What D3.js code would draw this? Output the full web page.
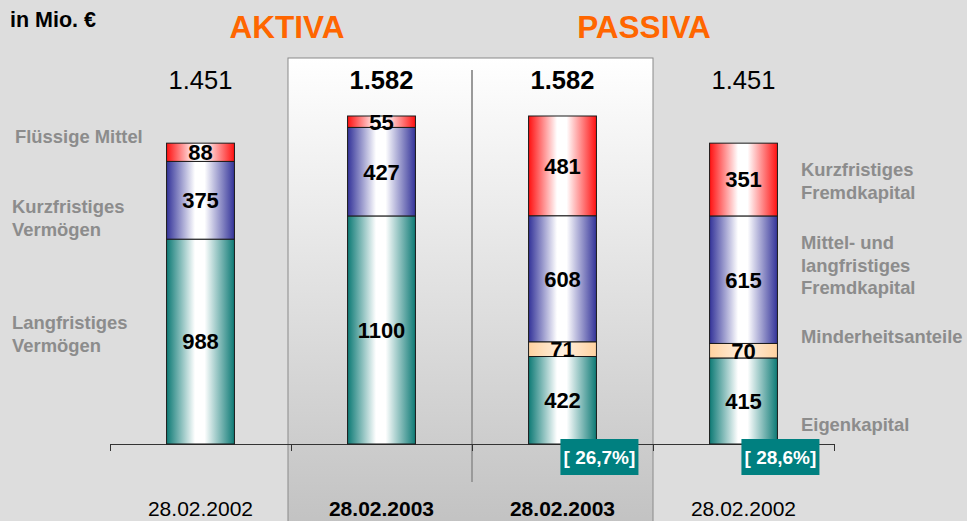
<!DOCTYPE html>
<html>
<head>
<meta charset="utf-8">
<script src="https://cdn.jsdelivr.net/npm/d3@7"></script>
<style>
  body { margin: 0; background: #dddddd; }
  svg { display: block; }
</style>
</head>
<body>
<div id="chart"></div>
<script>
// ---------- data ----------
const dates = ["28.02.2002", "28.02.2003", "28.02.2003", "28.02.2002"];
const boldCol = [false, true, true, false];
const totals = ["1.451", "1.582", "1.582", "1.451"];

const langfristigesVermoegen = [988, 1100, 0, 0];
const kurzfristigesVermoegen = [375, 427, 0, 0];
const fluessigeMittel = [88, 55, 0, 0];
const eigenkapital = [0, 0, 422, 415];
const minderheitsanteile = [0, 0, 71, 70];
const mittelLangFremd = [0, 0, 608, 615];
const kurzFremd = [0, 0, 481, 351];

const eigenkapitalQuote = [null, null, "26,7%", "28,6%"];

const leftLabels = [["Flüssige Mittel"], ["Kurzfristiges", "Vermögen"], ["Langfristiges", "Vermögen"]];
const rightLabels = [["Kurzfristiges", "Fremdkapital"], ["Mittel- und", "langfristiges", "Fremdkapital"], ["Minderheitsanteile"], ["Eigenkapital"]];

// ---------- layout ----------
const W = 967, H = 521;
const FONT = "'Liberation Sans', Arial, sans-serif";
const baseY = 444;

const keys = ["lv", "kv", "fm", "ek", "mh", "mlf", "kf"];
const valuesByKey = {
  lv: langfristigesVermoegen, kv: kurzfristigesVermoegen, fm: fluessigeMittel,
  ek: eigenkapital, mh: minderheitsanteile, mlf: mittelLangFremd, kf: kurzFremd
};
const colorByKey = {
  lv: "#0d7a75", kv: "#333399", fm: "#ff1010",
  ek: "#0d7a75", mh: "#ffd2a0", mlf: "#333399", kf: "#ff1010"
};

const rows = dates.map((d, i) => {
  const r = { i };
  keys.forEach(k => r[k] = valuesByKey[k][i]);
  return r;
});
const stacked = d3.stack().keys(keys)(rows);

const x = d3.scaleBand().domain(d3.range(dates.length)).range([110, 834]).paddingInner(0.625).paddingOuter(0.3125);
const xEdge = d3.scaleLinear().domain([0, dates.length]).range([110, 834]);
const y = d3.scaleLinear().domain([0, 1582]).range([baseY, 116]);

const svg = d3.select("#chart").append("svg").attr("width", W).attr("height", H);
const defs = svg.append("defs");

// background + highlighted panel
svg.append("rect").attr("width", W).attr("height", H).attr("fill", "#dddddd");

const pg = defs.append("linearGradient").attr("id", "panelGrad").attr("x1", 0).attr("y1", 0).attr("x2", 0).attr("y2", 1);
pg.append("stop").attr("offset", 0).attr("stop-color", "#ffffff");
pg.append("stop").attr("offset", 1).attr("stop-color", "#c2c2c2");

svg.append("rect")
  .attr("x", xEdge(1) - 3).attr("y", 58)
  .attr("width", xEdge(3) - xEdge(1) + 3).attr("height", H - 58 + 5)
  .attr("fill", "url(#panelGrad)")
  .attr("stroke", "#8a8a8a").attr("stroke-width", 1);

svg.append("line")
  .attr("x1", xEdge(2)).attr("x2", xEdge(2))
  .attr("y1", 70).attr("y2", 482)
  .attr("stroke", "#9a9a9a").attr("stroke-width", 2);

// gradients for bar segments
keys.forEach(k => {
  const c = colorByKey[k];
  const lg = defs.append("linearGradient").attr("id", "g_" + k).attr("x1", 0).attr("x2", 1).attr("y1", 0).attr("y2", 0);
  if (k === "mh") {
    lg.append("stop").attr("offset", 0).attr("stop-color", c);
    lg.append("stop").attr("offset", 0.5).attr("stop-color", "#fff0e0");
    lg.append("stop").attr("offset", 1).attr("stop-color", c);
  } else {
    lg.append("stop").attr("offset", 0).attr("stop-color", c);
    lg.append("stop").attr("offset", 0.42).attr("stop-color", "#ffffff");
    lg.append("stop").attr("offset", 0.56).attr("stop-color", "#ffffff");
    lg.append("stop").attr("offset", 1).attr("stop-color", c);
  }
});

// axis
const axis = svg.append("g").attr("transform", `translate(0,${baseY})`)
  .call(d3.axisBottom(xEdge).tickValues(d3.range(dates.length + 1)).tickSize(7).tickSizeOuter(0).tickFormat(""));
axis.selectAll("path,line").attr("stroke", "#333");

// bars
const layers = svg.append("g").selectAll("g").data(stacked).join("g");
layers.selectAll("rect")
  .data(s => s.map(d => ({ key: s.key, d })).filter(o => o.d[1] - o.d[0] > 0))
  .join("rect")
  .attr("x", o => x(o.d.data.i))
  .attr("width", x.bandwidth())
  .attr("y", o => y(o.d[1]))
  .attr("height", o => y(o.d[0]) - y(o.d[1]))
  .attr("fill", o => `url(#g_${o.key})`)
  .attr("stroke", "#1a1a1a").attr("stroke-width", 1);

layers.selectAll("text")
  .data(s => s.map(d => ({ key: s.key, d })).filter(o => o.d[1] - o.d[0] > 0))
  .join("text")
  .attr("x", o => x(o.d.data.i) + x.bandwidth() / 2)
  .attr("y", o => (y(o.d[0]) + y(o.d[1])) / 2)
  .attr("dy", "0.36em")
  .attr("text-anchor", "middle")
  .attr("font-family", FONT).attr("font-weight", "bold").attr("font-size", 22)
  .attr("fill", "#000")
  .text(o => o.d[1] - o.d[0]);

// totals
svg.append("g").selectAll("text").data(totals).join("text")
  .attr("x", (d, i) => x(i) + x.bandwidth() / 2)
  .attr("y", 89)
  .attr("text-anchor", "middle")
  .attr("font-family", FONT).attr("font-size", 25.5)
  .attr("font-weight", (d, i) => boldCol[i] ? "bold" : "normal")
  .attr("fill", "#000")
  .text(d => d);

// dates
svg.append("g").selectAll("text").data(dates).join("text")
  .attr("x", (d, i) => x(i) + x.bandwidth() / 2)
  .attr("y", 516)
  .attr("text-anchor", "middle")
  .attr("font-family", FONT).attr("font-size", 21)
  .attr("font-weight", (d, i) => boldCol[i] ? "bold" : "normal")
  .attr("fill", "#000")
  .text(d => d);

// equity ratio boxes
const quote = svg.append("g").selectAll("g")
  .data(eigenkapitalQuote.map((q, i) => ({ q, i })).filter(o => o.q))
  .join("g")
  .attr("transform", o => `translate(${x(o.i) + x.bandwidth() + 3},${baseY - 5})`);
quote.append("rect").attr("x", -39).attr("y", 0).attr("width", 78).attr("height", 36).attr("fill", "#008080");
quote.append("text")
  .attr("x", 0).attr("y", 25)
  .attr("text-anchor", "middle")
  .attr("font-family", FONT).attr("font-weight", "bold").attr("font-size", 19)
  .attr("fill", "#fff")
  .attr("xml:space", "preserve")
  .text(o => `[ ${o.q}]`);

// titles
svg.append("text").attr("x", 10).attr("y", 27)
  .attr("font-family", FONT).attr("font-weight", "bold").attr("font-size", 21.5).attr("fill", "#000")
  .text("in Mio. €");
svg.append("text").attr("x", 287).attr("y", 38)
  .attr("text-anchor", "middle")
  .attr("font-family", FONT).attr("font-weight", "bold").attr("font-size", 31.5).attr("fill", "#ff6600")
  .text("AKTIVA");
svg.append("text").attr("x", 644).attr("y", 38)
  .attr("text-anchor", "middle")
  .attr("font-family", FONT).attr("font-weight", "bold").attr("font-size", 31.5).attr("fill", "#ff6600")
  .text("PASSIVA");

// side labels
const leftPos = [{ x: 15, y: 143 }, { x: 12, y: 213 }, { x: 12, y: 329 }];
const rightPos = [{ x: 801, y: 176 }, { x: 801, y: 249 }, { x: 801, y: 343 }, { x: 801, y: 431 }];
function sideLabels(list, pos) {
  const g = svg.append("g").selectAll("text").data(list).join("text")
    .attr("font-family", FONT).attr("font-weight", "bold").attr("font-size", 18.4).attr("fill", "#8c8c8c")
    .attr("x", (d, i) => pos[i].x).attr("y", (d, i) => pos[i].y);
  g.selectAll("tspan").data(d => d).join("tspan")
    .attr("x", function () { return d3.select(this.parentNode).attr("x"); })
    .attr("dy", (d, j) => j === 0 ? 0 : 22.5)
    .text(d => d);
}
sideLabels(leftLabels, leftPos);
sideLabels(rightLabels, rightPos);
</script>
</body>
</html>
